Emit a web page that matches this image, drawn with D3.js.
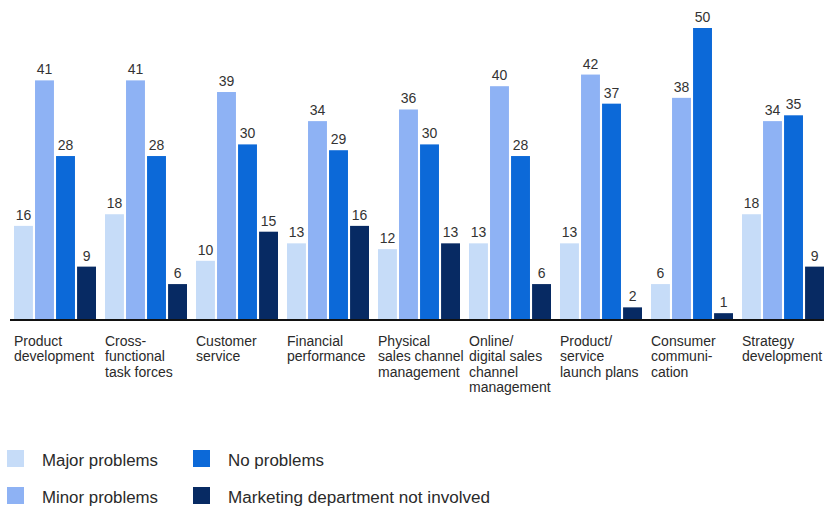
<!DOCTYPE html>
<html><head><meta charset="utf-8">
<script src="https://cdn.jsdelivr.net/npm/d3@7"></script>
<style>body{margin:0;background:#fff}svg{display:block}</style>
</head><body><svg id="c" width="824" height="506"></svg>
<script>
const categories = [
  ["Product","development"],
  ["Cross-","functional","task forces"],
  ["Customer","service"],
  ["Financial","performance"],
  ["Physical","sales channel","management"],
  ["Online/","digital sales","channel","management"],
  ["Product/","service","launch plans"],
  ["Consumer","communi-","cation"],
  ["Strategy","development"]
];
const seriesNames = ["Major problems","Minor problems","No problems","Marketing department not involved"];
const majorProblems = [16,18,10,13,12,13,13,6,18];
const minorProblems = [41,41,39,34,36,40,42,38,34];
const noProblems = [28,28,30,29,30,28,37,50,35];
const notInvolved = [9,6,15,16,13,6,2,1,9];
const seriesValues = [majorProblems, minorProblems, noProblems, notInvolved];
const colors = ["#c6dcf8","#8eb2f4","#0c69d8","#072a63"];

const svg = d3.select("#c");
const keys = categories.map((c,i)=>"c"+i);
const x0 = d3.scaleBand().domain(keys).range([14, 824]).paddingInner(0.099).paddingOuter(0);
const x1 = d3.scaleBand().domain(d3.range(4)).range([0, x0.bandwidth()]).paddingInner(0.1);
const y = d3.scaleLinear().domain([0,50]).range([319, 28]);

const g = svg.append("g");
keys.forEach((k,i)=>{
  const grp = g.append("g").attr("transform",`translate(${x0(k)},0)`);
  seriesValues.forEach((vals,s)=>{
    const v = vals[i];
    grp.append("rect").attr("x",x1(s)).attr("y",y(v)).attr("width",x1.bandwidth()).attr("height",y(0)-y(v)).attr("fill",colors[s]);
    grp.append("text").attr("x",x1(s)+x1.bandwidth()/2).attr("y",y(v)-6).attr("text-anchor","middle")
      .attr("font-family","Liberation Sans, Arial, sans-serif").attr("font-size",14).attr("fill","#333").text(v);
  });
  const t = grp.append("text").attr("x",0).attr("y",346).attr("font-family","Liberation Sans, Arial, sans-serif").attr("font-size",14).attr("fill","#2a2a2a");
  categories[i].forEach((line,j)=>{
    t.append("tspan").attr("x",0).attr("y",346+j*15.3).text(line);
  });
});

svg.append("line").attr("x1",10).attr("x2",824).attr("y1",320).attr("y2",320).attr("stroke","#111").attr("stroke-width",2);

const legendPos = [[7,450],[7,487],[193,450],[193,487]];
const legendWidths = [116,116,96,262];
seriesNames.forEach((n,s)=>{
  const [lx,ly] = legendPos[s];
  svg.append("rect").attr("x",lx).attr("y",ly).attr("width",17).attr("height",17).attr("fill",colors[s]);
  svg.append("text").attr("x",lx+35).attr("y",ly+16).attr("font-family","Liberation Sans, Arial, sans-serif").attr("font-size",16)
    .attr("textLength",legendWidths[s]).attr("lengthAdjust","spacingAndGlyphs").attr("fill","#2a2a2a").text(n);
});
</script></body></html>
